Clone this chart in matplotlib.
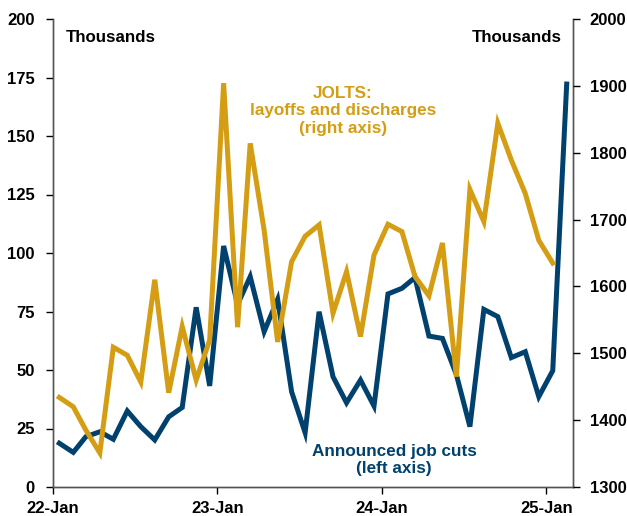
import pandas as pd
import matplotlib
matplotlib.use("Agg")
import matplotlib.pyplot as plt
import matplotlib.dates as mdates

plt.rcParams["font.family"] = ["Liberation Sans", "DejaVu Sans"]
plt.rcParams["font.weight"] = "bold"

# monthly data, Jan 2022 onwards (plotted mid-month)
job_cuts = [18.7, 14.8, 21.5, 23.6, 20.4, 32.5, 25.8, 20.1, 30.0, 34.0, 76.8, 43.2,
            103.0, 78.0, 89.9, 66.4, 80.2, 40.7, 23.2, 74.9, 47.1, 36.0, 45.7, 34.6,
            82.5, 84.9, 89.5, 64.5, 63.5, 48.0, 25.8, 75.9, 72.8, 55.3, 57.8, 38.6,
            49.7, 172.2]
jolts = [1434, 1420, 1385, 1351, 1509, 1497, 1457, 1610, 1441, 1540, 1460, 1520,
         1904, 1539, 1814, 1684, 1517, 1637, 1675, 1692, 1560, 1622, 1525, 1647,
         1693, 1682, 1615, 1586, 1665, 1465, 1745, 1697, 1844, 1789, 1739, 1669,
         1635]

dates_cuts = pd.date_range("2022-01-01", periods=len(job_cuts), freq="MS") + pd.Timedelta(days=14)
dates_jolts = dates_cuts[:len(jolts)]

blue = "#00416E"
gold = "#D49D13"

fig = plt.figure(figsize=(6.27, 5.16), dpi=100)
ax = fig.add_axes([53 / 627, 1 - 487 / 516, 520 / 627, 468 / 516])
ax2 = ax.twinx()

ax.plot(dates_cuts, job_cuts, color=blue, lw=3.6, solid_joinstyle="miter")
ax2.plot(dates_jolts, jolts, color=gold, lw=3.6, solid_joinstyle="miter")

ax.set_xlim(pd.Timestamp("2022-01-01"), pd.Timestamp("2025-03-01"))
ax.set_ylim(0, 200)
ax2.set_ylim(1300, 2000)
ax.set_yticks(range(0, 201, 25))
ax2.set_yticks(range(1300, 2001, 100))
ax.xaxis.set_major_locator(mdates.YearLocator())
ax.xaxis.set_major_formatter(mdates.DateFormatter("%y-%b"))

for a in (ax, ax2):
    a.spines["top"].set_visible(False)
    for s in a.spines.values():
        s.set_color("#555555")
        s.set_linewidth(1.0)
    a.tick_params(colors="black", labelsize=12, length=5, width=1.0, direction="out")
    for s in a.spines.values():
        s.set_zorder(0.5)
ax.tick_params(axis="y", pad=8)
ax2.tick_params(axis="y", pad=7)
ax.tick_params(axis="x", pad=5)
for lab in ax.get_xticklabels() + ax.get_yticklabels() + ax2.get_yticklabels():
    lab.set_fontweight("bold")

fig.text(66 / 627, 1 - 37 / 516, "Thousands", fontsize=12.2, fontweight="bold", va="center", ha="left")
fig.text(562 / 627, 1 - 37 / 516, "Thousands", fontsize=12.2, fontweight="bold", va="center", ha="right")
fig.text(343 / 627, 1 - 111 / 516, "JOLTS:\nlayoffs and discharges\n(right axis)", color=gold,
         fontsize=12.3, fontweight="bold", ha="center", va="center", linespacing=1.2)
fig.text(394 / 627, 1 - 460 / 516, "Announced job cuts\n(left axis)", color=blue,
         fontsize=12.3, fontweight="bold", ha="center", va="center", linespacing=1.2)

fig.savefig("out.png", dpi=100)
